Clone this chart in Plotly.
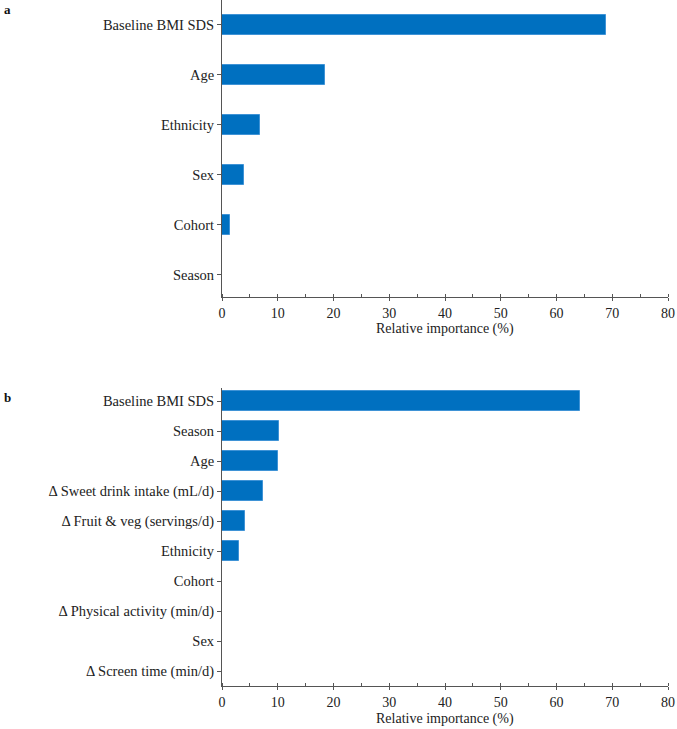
import plotly.graph_objects as go
from plotly.subplots import make_subplots

# Panel a
cats_a = ["Baseline BMI SDS", "Age", "Ethnicity", "Sex", "Cohort", "Season"]
vals_a = [68.9, 18.5, 6.8, 3.9, 1.5, 0.0]

# Panel b
cats_b = ["Baseline BMI SDS", "Season", "Age", "\u0394 Sweet drink intake (mL/d)",
          "\u0394 Fruit & veg (servings/d)", "Ethnicity", "Cohort",
          "\u0394 Physical activity (min/d)", "Sex", "\u0394 Screen time (min/d)"]
vals_b = [64.2, 10.3, 10.0, 7.3, 4.1, 3.1, 0.0, 0.0, 0.0, 0.0]

x_ticks = [0, 10, 20, 30, 40, 50, 60, 70, 80]
x_title = "Relative importance (%)"

BAR = "#0070C0"
EDGE = "#3F93D6"
AX = "#555555"
FONT = "Liberation Serif"
FS = 14.5
FSX = 14

fig = make_subplots(rows=2, cols=1)

fig.add_trace(go.Bar(y=cats_a, x=vals_a, orientation="h", width=0.4,
                     marker=dict(color=BAR, line=dict(color=EDGE, width=1)),
                     showlegend=False), row=1, col=1)
fig.add_trace(go.Bar(y=cats_b, x=vals_b, orientation="h", width=0.667,
                     marker=dict(color=BAR, line=dict(color=EDGE, width=1)),
                     showlegend=False), row=2, col=1)

H = 729
plot_h = 686.0
a_bot = 296.7
b_top = 388.0


def py(p):
    return (plot_h - p) / plot_h


fig.update_layout(
    width=677, height=H,
    margin=dict(l=222, r=9, t=0, b=H - plot_h),
    plot_bgcolor="white", paper_bgcolor="white",
    font=dict(family=FONT, size=FS, color="#222222"),
    bargap=0,
)

xcommon = dict(range=[0, 80], tickvals=x_ticks, ticks="outside", ticklen=3,
               tickcolor=AX, showline=True, linecolor=AX, linewidth=1,
               showgrid=False, zeroline=False,
               minor=dict(dtick=5, ticks="inside", ticklen=3, tickcolor=AX),
               tickfont=dict(family=FONT, size=FSX))
fig.update_layout(
    xaxis=dict(domain=[0, 1], anchor="y", **xcommon),
    xaxis2=dict(domain=[0, 1], anchor="y2", **xcommon),
    yaxis=dict(domain=[py(a_bot), 1.0], anchor="x",
               type="category", categoryorder="array", categoryarray=cats_a,
               range=[5.44, -0.494], ticks="outside", ticklen=4, tickcolor=AX,
               showline=True, linecolor=AX, linewidth=1, showgrid=False,
               tickfont=dict(family=FONT, size=FS)),
    yaxis2=dict(domain=[0, py(b_top)], anchor="x2",
                type="category", categoryorder="array", categoryarray=cats_b,
                range=[9.49, -0.443], ticks="outside", ticklen=4, tickcolor=AX,
                showline=True, linecolor=AX, linewidth=1, showgrid=False,
                tickfont=dict(family=FONT, size=FS)),
)

# axis titles
fig.add_annotation(text=x_title, xref="paper", yref="paper", x=0.5,
                   y=py(a_bot + 32.5), xanchor="center", yanchor="middle",
                   showarrow=False, font=dict(family=FONT, size=FSX))
fig.add_annotation(text=x_title, xref="paper", yref="paper", x=0.5,
                   y=py(plot_h + 32.5), xanchor="center", yanchor="middle",
                   showarrow=False, font=dict(family=FONT, size=FSX))

fig.add_annotation(text="<b>a</b>", xref="paper", yref="paper", x=-222 / 446, y=1.0,
                   xanchor="left", yanchor="top", showarrow=False, xshift=2,
                   font=dict(family=FONT, size=13, color="#111111"))
fig.add_annotation(text="<b>b</b>", xref="paper", yref="paper",
                   x=-222 / 446, y=py(b_top),
                   xanchor="left", yanchor="top", showarrow=False, xshift=2,
                   font=dict(family=FONT, size=13, color="#111111"))

fig.write_html("out.html")
